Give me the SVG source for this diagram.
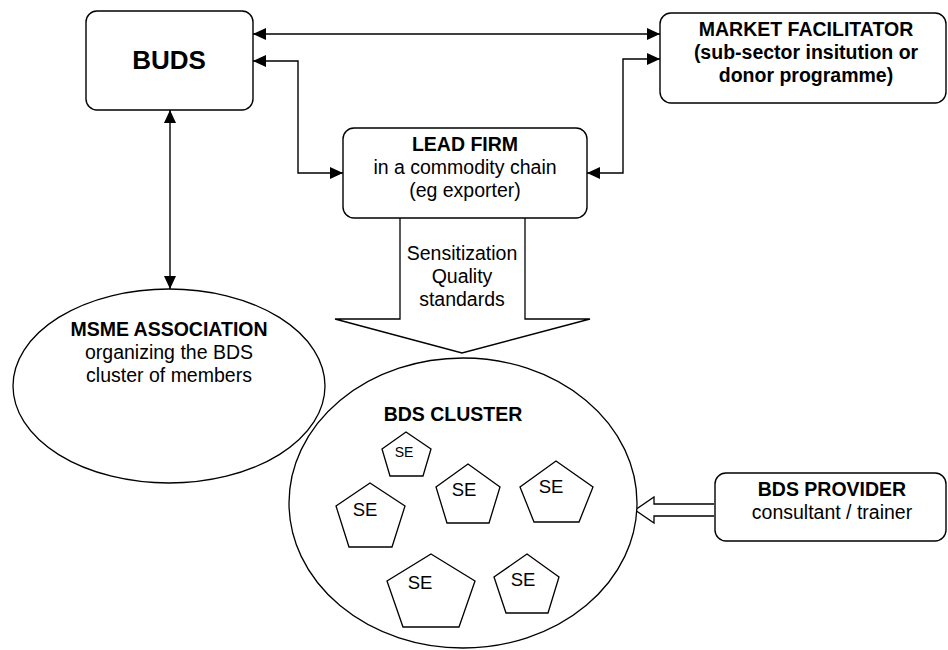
<svg xmlns="http://www.w3.org/2000/svg" width="948" height="650" viewBox="0 0 948 650">
  <style>
    .box { fill: #fff; stroke: #000; stroke-width: 1.4; }
    .shape { fill: #fff; stroke: #000; stroke-width: 1.3; }
    .link { fill: none; stroke: #000; stroke-width: 1.4; }
    text { font-family: "Liberation Sans", Arial, sans-serif; fill: #000; text-anchor: middle; }
    .b { font-weight: bold; font-size: 19.5px; }
    .r { font-size: 19.5px; }
    .se { font-size: 18.5px; }
  </style>
  <defs>
    <marker id="head" viewBox="0 0 13 12" refX="13" refY="6" markerWidth="13" markerHeight="12" markerUnits="userSpaceOnUse" orient="auto-start-reverse">
      <path d="M0,0 L13,6 L0,12 z" fill="#000"/>
    </marker>
  </defs>

  <!-- connectors -->
  <g id="connectors">
    <line class="link" x1="253" y1="34" x2="660" y2="34" marker-start="url(#head)" marker-end="url(#head)"/>
    <polyline class="link" points="253,61 298,61 298,173 343,173" marker-start="url(#head)" marker-end="url(#head)"/>
    <polyline class="link" points="587,173 623,173 623,59 660,59" marker-start="url(#head)" marker-end="url(#head)"/>
    <line class="link" x1="170" y1="110" x2="170" y2="289" marker-start="url(#head)" marker-end="url(#head)"/>
    <!-- block arrow: lead firm down to cluster -->
    <path class="shape" d="M400,218 L400,319 L335,319 L462,353 L590,319 L525,319 L525,218"/>
    <text class="r" x="462" y="260">Sensitization</text>
    <text class="r" x="462" y="283">Quality</text>
    <text class="r" x="462" y="306">standards</text>
    <!-- hollow arrow: provider into cluster -->
    <path class="shape" d="M714,504 L654,504 L654,497 L635,510 L654,523 L654,516 L714,516"/>
  </g>

  <g id="buds">
    <rect class="box" x="86" y="11" width="167" height="99" rx="11"/>
    <text x="169" y="69" style="font-weight:bold;font-size:26px">BUDS</text>
  </g>

  <g id="market-facilitator">
    <rect class="box" x="660" y="13" width="286" height="90" rx="11"/>
    <text class="b" x="806" y="36">MARKET FACILITATOR</text>
    <text class="b" x="806" y="59">(sub-sector insitution or</text>
    <text class="b" x="806" y="82">donor programme)</text>
  </g>

  <g id="lead-firm">
    <rect class="box" x="343" y="128" width="244" height="90" rx="11"/>
    <text class="b" x="465" y="151">LEAD FIRM</text>
    <text class="r" x="465" y="174">in a commodity chain</text>
    <text class="r" x="465" y="197">(eg exporter)</text>
  </g>

  <g id="msme-association">
    <ellipse class="shape" cx="169" cy="386" rx="156" ry="97"/>
    <text class="b" x="169" y="336">MSME ASSOCIATION</text>
    <text class="r" x="169" y="359">organizing the BDS</text>
    <text class="r" x="169" y="382">cluster of members</text>
  </g>

  <g id="bds-cluster">
    <ellipse class="shape" cx="463" cy="503" rx="174" ry="145"/>
    <text class="b" x="453" y="421">BDS CLUSTER</text>
    <g id="se-1">
      <polygon class="shape" points="406,432 431,449 423,476 390,476 382,449"/>
      <text x="404" y="457" style="font-size:14px">SE</text>
    </g>
    <g id="se-2">
      <polygon class="shape" points="370,483 405,506 392,547 349,547 336,506"/>
      <text class="se" x="365" y="516">SE</text>
    </g>
    <g id="se-3">
      <polygon class="shape" points="468,464 500,487 489,523 447,523 436,487"/>
      <text class="se" x="464" y="496">SE</text>
    </g>
    <g id="se-4">
      <polygon class="shape" points="556,461 593,487 579,522 534,522 520,487"/>
      <text class="se" x="551" y="493">SE</text>
    </g>
    <g id="se-5">
      <polygon class="shape" points="431,554 475,581 459,627 403,627 387,581"/>
      <text class="se" x="420" y="589">SE</text>
    </g>
    <g id="se-6">
      <polygon class="shape" points="527,554 559,577 548,613 506,613 494,577"/>
      <text class="se" x="523" y="586">SE</text>
    </g>
  </g>

  <g id="bds-provider">
    <rect class="box" x="715" y="473" width="231" height="68" rx="11"/>
    <text class="b" x="832" y="496">BDS PROVIDER</text>
    <text class="r" x="832" y="519">consultant / trainer</text>
  </g>
</svg>
